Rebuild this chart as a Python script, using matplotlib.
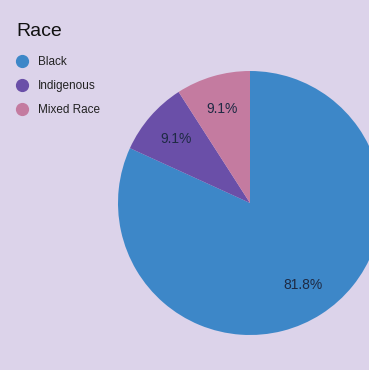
import matplotlib
matplotlib.use("Agg")
import matplotlib.pyplot as plt
from matplotlib.lines import Line2D

plt.rcParams['font.family'] = ['Liberation Sans', 'DejaVu Sans']

# data
categories = ["Black", "Indigenous", "Mixed Race"]
counts = [9, 1, 1]
colors = ["#3d87c8", "#6a4fa8", "#c47ba0"]
bg = "#dcd3ea"

fig = plt.figure(figsize=(3.69, 3.70), dpi=100, facecolor=bg)

# pie axes: center (250, 203) px, radius 132 px
W, H = 369, 370
cx, cy, r = 250, 203, 132
ax = fig.add_axes([(cx - r) / W, (H - cy - r) / H, 2 * r / W, 2 * r / H])
ax.set_facecolor(bg)
wedges, texts, autotexts = ax.pie(
    counts, colors=colors, startangle=90, counterclock=False,
    autopct='%1.1f%%', pctdistance=0.74,
    wedgeprops=dict(linewidth=0),
    textprops=dict(fontsize=10, color="#1e2a44"))
ax.set_xlim(-1, 1)
ax.set_ylim(-1, 1)
ax.set_aspect('equal')
ax.axis('off')

# title
fig.text(16 / W, 1 - 31 / H, "Race", fontsize=14, va='center', ha='left', color="#111111")

# legend
handles = [Line2D([0], [0], marker='o', linestyle='none', markersize=8.5,
                  markerfacecolor=c, markeredgecolor=c) for c in colors]
fig.legend(handles, categories, loc='upper left', bbox_to_anchor=(11 / W, 1 - 51 / H),
           frameon=False, fontsize=8.5, handlelength=1.0, handletextpad=0.85,
           labelspacing=1.03, borderaxespad=0, labelcolor="#222222")

fig.savefig("out.png", dpi=100, facecolor=bg)
